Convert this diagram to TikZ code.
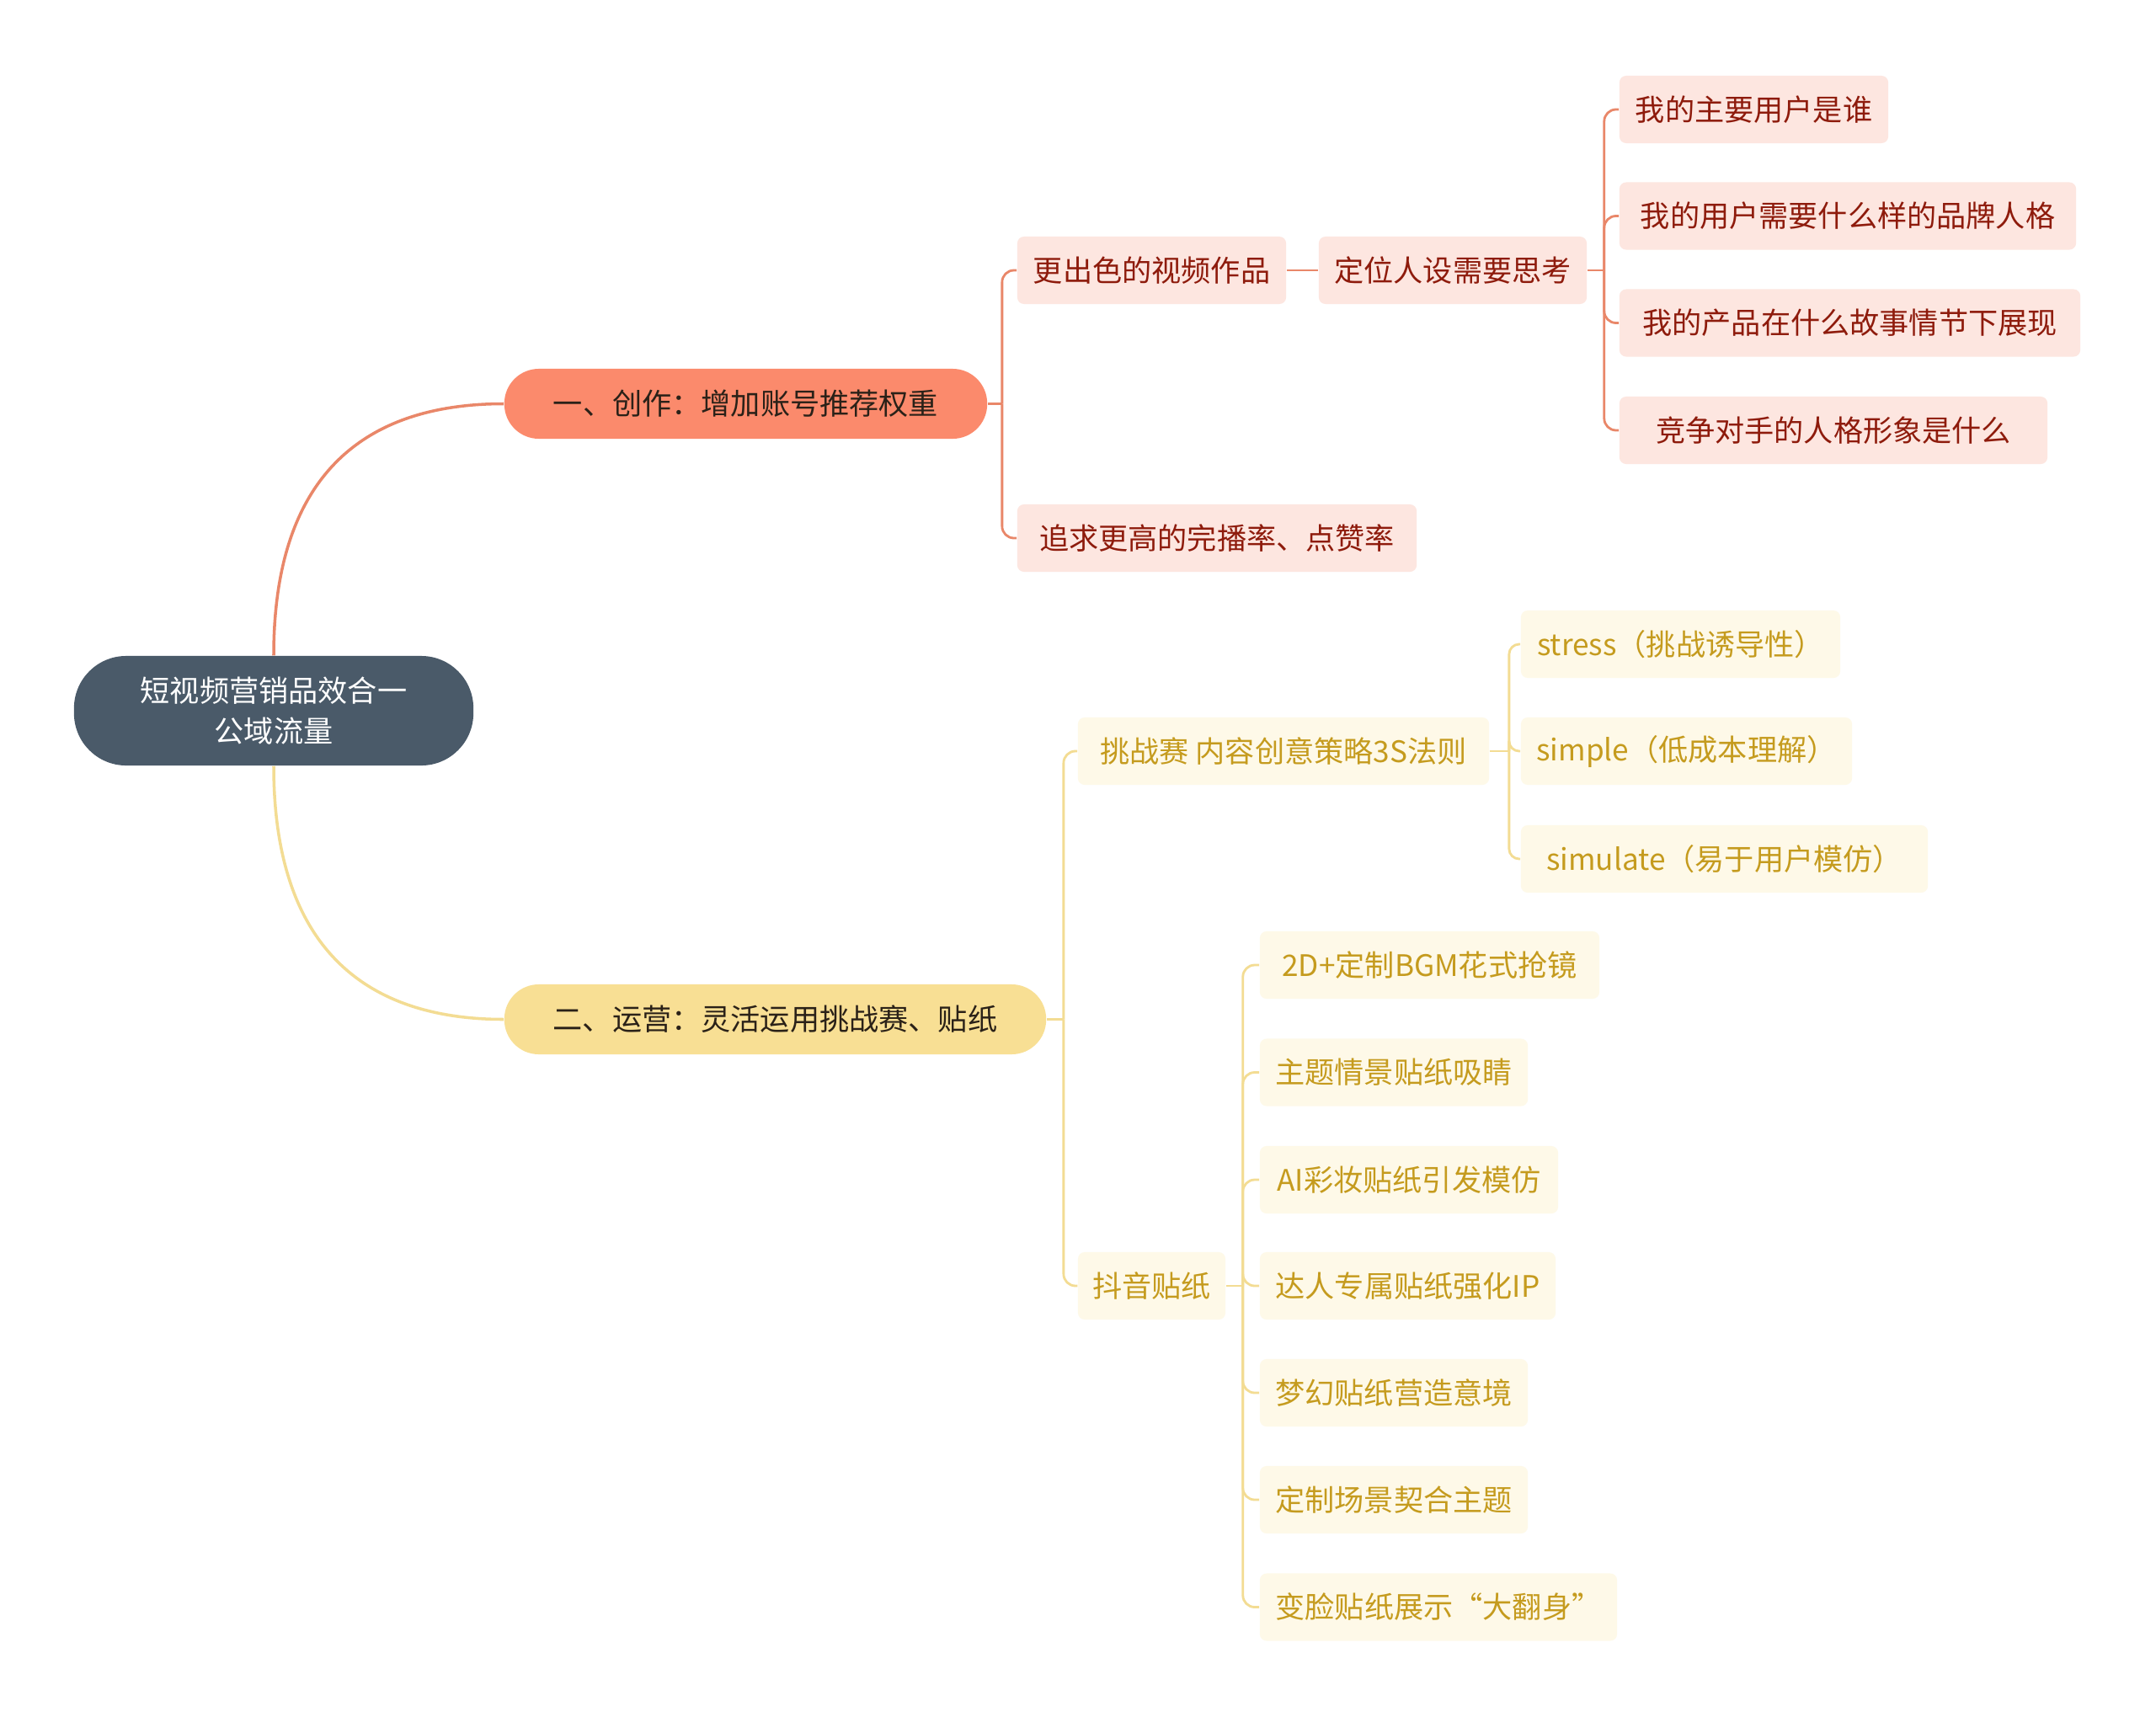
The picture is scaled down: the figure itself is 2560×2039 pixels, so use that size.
\documentclass[tikz,border=0pt]{standalone}
\usepackage{fontspec}
\setmainfont{Noto Sans CJK SC}
\usetikzlibrary{calc}
\definecolor{rootc}{HTML}{4A5A69}
\definecolor{bone}{HTML}{FB8A6C}
\definecolor{btwo}{HTML}{F8DF94}
\definecolor{pinkfill}{HTML}{FDE6E0}
\definecolor{pinktext}{HTML}{8E1B0C}
\definecolor{yelfill}{HTML}{FEF9E8}
\definecolor{yeltext}{HTML}{C59B1E}
\definecolor{salline}{HTML}{E98769}
\definecolor{yelline}{HTML}{F3DC93}
\definecolor{darktext}{HTML}{2A2118}
\tikzset{
  box/.style={rectangle, rounded corners=0.08cm, inner sep=0pt, minimum height=0.8cm, align=center},
  pk/.style={box, fill=pinkfill, text=pinktext},
  yl/.style={box, fill=yelfill, text=yeltext},
  ln1/.style={draw=salline, line width=0.8pt},
  ln2/.style={draw=yelline, line width=0.8pt},
  branch/.style={rectangle, rounded corners=0.41cm, inner sep=0pt, minimum height=0.83cm, text=darktext},
}
\begin{document}
\begin{tikzpicture}[x=0.01cm,y=-0.01cm, font=\fontsize{10pt}{13.4pt}\selectfont]
\useasboundingbox (0,0) rectangle (2560,2039);
\fill[white] (0,0) rectangle (2560,2039);

% root
\node[rectangle, rounded corners=0.62cm, fill=rootc, text=white, align=center, inner sep=0pt,
      minimum width=4.74cm, minimum height=1.30cm] (root) at (325,844) {短视频营销品效合一\\公域流量};

% branches
\node[branch, fill=bone, minimum width=5.73cm] (b1) at (885.5,479.5) {一、创作：增加账号推荐权重};
\node[branch, fill=btwo, minimum width=6.43cm] (b2) at (920.5,1210.5) {二、运营：灵活运用挑战赛、贴纸};

% branch 1 children
\node[pk, minimum width=3.19cm] (s1) at (1367.5,321) {更出色的视频作品};
\node[pk, minimum width=3.18cm] (s2) at (1725,321) {定位人设需要思考};
\node[pk, minimum width=4.74cm] (s3) at (1445,639) {追求更高的完播率、点赞率};
\node[pk, minimum width=3.19cm] (t1) at (2082.5,130) {我的主要用户是谁};
\node[pk, minimum width=5.42cm] (t2) at (2194,256.5) {我的用户需要什么样的品牌人格};
\node[pk, minimum width=5.47cm] (t3) at (2196.5,383.5) {我的产品在什么故事情节下展现};
\node[pk, minimum width=5.08cm] (t4) at (2177,511) {竞争对手的人格形象是什么};

% branch 2 children
\node[yl, minimum width=4.88cm] (y1) at (1524,892) {挑战赛 内容创意策略3S法则};
\node[yl, minimum width=1.75cm] (y2) at (1367.5,1527) {抖音贴纸};
\node[yl, minimum width=3.79cm] (z1) at (1995.5,765) {stress（挑战诱导性）};
\node[yl, minimum width=3.93cm] (z2) at (2002.5,892) {simple（低成本理解）};
\node[yl, minimum width=4.83cm] (z3) at (2047.5,1020) {simulate（易于用户模仿）};
\node[yl, minimum width=4.03cm] (w1) at (1697.5,1146) {2D+定制BGM花式抢镜};
\node[yl, minimum width=3.18cm] (w2) at (1655,1273.5) {主题情景贴纸吸睛};
\node[yl, minimum width=3.54cm] (w3) at (1673,1401) {AI彩妆贴纸引发模仿};
\node[yl, minimum width=3.51cm] (w4) at (1671.5,1527) {达人专属贴纸强化IP};
\node[yl, minimum width=3.18cm] (w5) at (1655,1654) {梦幻贴纸营造意境};
\node[yl, minimum width=3.18cm] (w6) at (1655,1781) {定制场景契合主题};
\node[yl, minimum width=4.24cm] (w7) at (1708,1908.5) {变脸贴纸展示“大翻身”};

% root connectors
\draw[ln1, line width=1pt] (root.north) .. controls ($(root.north)+(0,-210)$) and ($(b1.west)+(-170,0)$) .. (b1.west);
\draw[ln2, line width=1pt] (root.south) .. controls ($(root.south)+(0,210)$) and ($(b2.west)+(-170,0)$) .. (b2.west);

% branch 1 connectors
\coordinate (sp1) at ($(b1.east)+(17,0)$);
\draw[ln1] (b1.east) -- (sp1);
\foreach \c in {s1,s3} \draw[ln1, rounded corners=0.14cm] (sp1) |- (\c.west);
\draw[ln1] (s1.east) -- (s2.west);
\coordinate (sp2) at ($(s2.east)+(20,0)$);
\draw[ln1] (s2.east) -- (sp2);
\foreach \c in {t1,t2,t3,t4} \draw[ln1, rounded corners=0.14cm] (sp2) |- (\c.west);

% branch 2 connectors
\coordinate (sp3) at ($(b2.east)+(20,0)$);
\draw[ln2] (b2.east) -- (sp3);
\foreach \c in {y1,y2} \draw[ln2, rounded corners=0.14cm] (sp3) |- (\c.west);
\coordinate (sp4) at ($(y1.east)+(23,0)$);
\draw[ln2] (y1.east) -- (sp4);
\foreach \c in {z1,z2,z3} \draw[ln2, rounded corners=0.12cm] (sp4) |- (\c.west);
\coordinate (sp5) at ($(y2.east)+(20,0)$);
\draw[ln2] (y2.east) -- (sp5);
\foreach \c in {w1,w2,w3,w4,w5,w6,w7} \draw[ln2, rounded corners=0.14cm] (sp5) |- (\c.west);
\end{tikzpicture}
\end{document}
